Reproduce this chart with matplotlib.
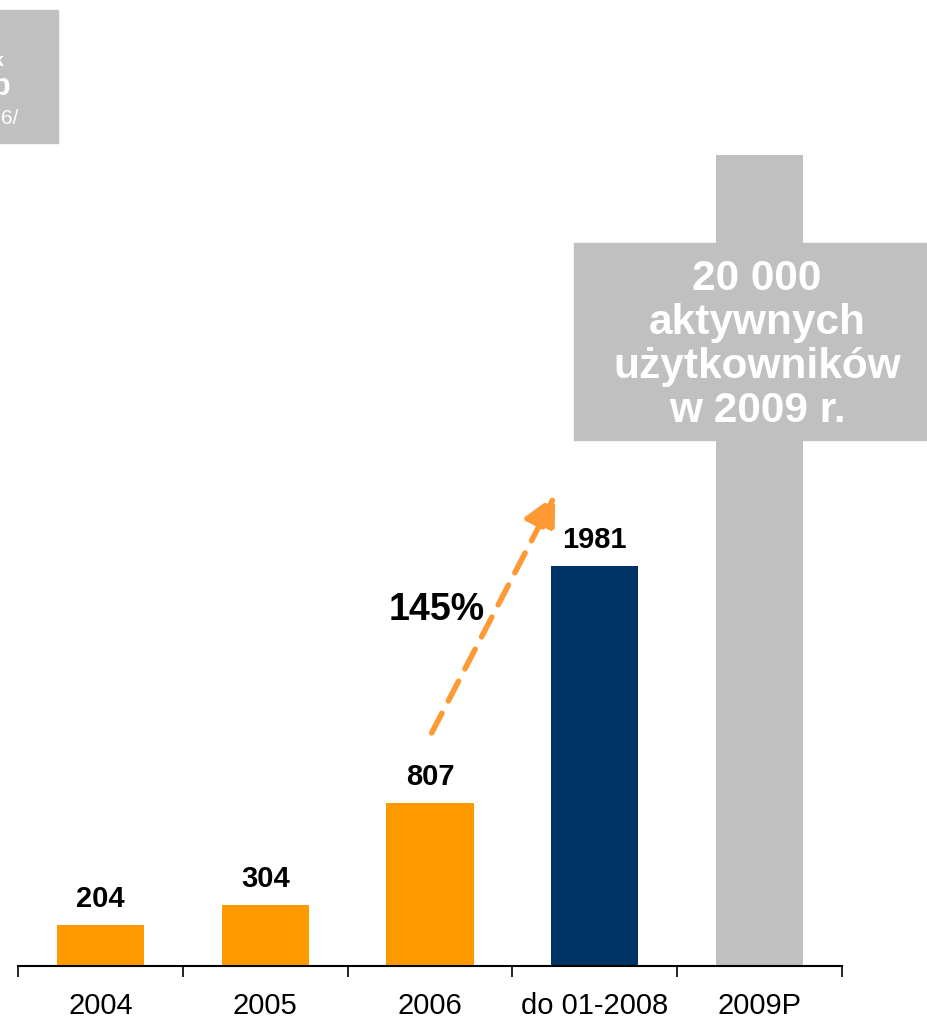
import matplotlib.pyplot as plt
from matplotlib.patches import Rectangle

plt.rcParams['font.family'] = ['Liberation Sans', 'DejaVu Sans']

categories = ['2004', '2005', '2006', 'do 01-2008', '2009P']
values = [204, 304, 807, 1981, 4016]
labels = ['204', '304', '807', '1981', '']
colors = ['#FF9900', '#FF9900', '#FF9900', '#003366', '#C0C0C0']
growth = '145%'
box_text = '20 000\naktywnych\nużytkowników\nw 2009 r.'

W, H = 928, 1021
fig = plt.figure(figsize=(W / 100, H / 100), dpi=100)
ax = fig.add_axes([18 / W, 55 / H, 824 / W, 966 / H])

x = list(range(len(categories)))
ax.bar(x, values, width=0.53, color=colors, zorder=2)
for xi, v, lab in zip(x, values, labels):
    if lab:
        ax.annotate(lab, (xi, v), xytext=(0, 13), textcoords='offset points',
                    ha='center', va='baseline', fontsize=21, fontweight='bold')

ax.set_xlim(-0.5, 4.5)
ax.set_ylim(0, 4784)

for s in ['top', 'left', 'right']:
    ax.spines[s].set_visible(False)
ax.spines['bottom'].set_linewidth(1.5)
ax.set_yticks([])
ax.set_xticks([i - 0.5 for i in range(len(categories) + 1)])
ax.set_xticklabels([])
ax.tick_params(axis='x', which='major', length=8, width=1.2, direction='out')
ax.set_xticks(x, minor=True)
ax.set_xticklabels(categories, minor=True, fontsize=21)
ax.tick_params(axis='x', which='minor', length=0, pad=19)

# growth arrow
ax.annotate('', xy=(2.76, 2333), xytext=(2.01, 1154),
            arrowprops=dict(arrowstyle='-|>,head_length=2.0,head_width=1.0',
                            color='#FF9933', lw=4, linestyle=(0, (4, 2.5)),
                            shrinkA=0, shrinkB=0), zorder=3)
ax.text(2.33, 1765, growth, ha='right', va='center', fontsize=27, fontweight='bold')

# box with 2009 target
ax.add_patch(Rectangle((574 / W, 1 - 440 / H), 354 / W, 197 / H,
                       transform=fig.transFigure, color='#C0C0C0',
                       clip_on=False, zorder=5))
fig.text(757 / W, 1 - 345 / H, box_text, ha='center', va='center',
         color='white', fontsize=30.5, fontweight='bold', linespacing=1.13, zorder=6)

# clipped box in the top-left corner
fig.patches.append(Rectangle((0, 1 - 143 / H), 58 / W, 133 / H,
                             transform=fig.transFigure, color='#C0C0C0'))
fig.text(3 / W, 1 - 62 / H, 'k', ha='right', va='center', color='white',
         fontsize=14, fontweight='bold')
fig.text(11 / W, 1 - 87 / H, 'b', ha='right', va='center', color='white',
         fontsize=22, fontweight='bold')
fig.text(18 / W, 1 - 118 / H, '2006/', ha='right', va='center', color='white',
         fontsize=15)

fig.savefig('out.png', dpi=100)
